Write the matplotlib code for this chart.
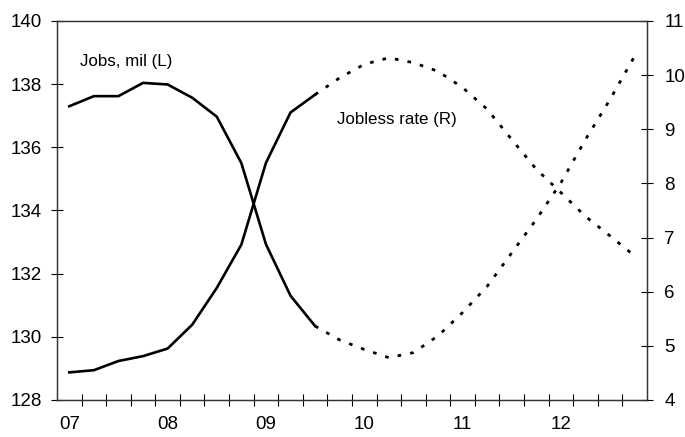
import numpy as np
import matplotlib
matplotlib.use('Agg')
import matplotlib.pyplot as plt

plt.rcParams['font.family'] = ['Liberation Sans', 'DejaVu Sans']

# quarterly data, 2007Q1 .. 2012Q4 (first 11 quarters actual, rest forecast)
jobs_actual = [137.30, 137.62, 137.62, 138.04, 137.99, 137.57, 136.97, 135.50, 132.93, 131.30, 130.34]
jobs_fcst = [130.34, 129.90, 129.60, 129.34, 129.50, 130.03, 130.77, 131.60, 132.66, 133.72, 134.88, 136.25, 137.52, 138.89]
rate_actual = [4.51, 4.55, 4.72, 4.81, 4.95, 5.39, 6.07, 6.87, 8.38, 9.31, 9.64]
rate_fcst = [9.64, 9.95, 10.20, 10.32, 10.23, 10.07, 9.77, 9.37, 8.81, 8.26, 7.83, 7.39, 7.03, 6.66]
year_labels = ['07', '08', '09', '10', '11', '12']

x_act = np.arange(len(jobs_actual)) + 0.5
x_fc = np.arange(len(jobs_actual) - 1, len(jobs_actual) - 1 + len(jobs_fcst)) + 0.5

fig = plt.figure(figsize=(6.85, 4.37), dpi=100)
ax = fig.add_axes([0.0832, 0.0847, 0.8613, 0.8673])
ax2 = ax.twinx()

dots = (0, (1.3, 3.3))
ax.plot(x_act, jobs_actual, color='black', lw=1.9)
ax.plot(x_fc, jobs_fcst, color='black', lw=2, linestyle=dots)
ax2.plot(x_act, rate_actual, color='black', lw=1.9)
ax2.plot(x_fc, rate_fcst, color='black', lw=2, linestyle=dots)

ax.set_xlim(0, 24)
ax.set_ylim(128, 140)
ax2.set_ylim(4, 11)
ax.set_yticks(np.arange(128, 141, 2))
ax2.set_yticks(np.arange(4, 12, 1))

ax.set_xticks(np.arange(len(year_labels)) * 4 + 0.5)
ax.set_xticklabels(year_labels)
ax.set_xticks(np.arange(1, 24), minor=True)
ax.tick_params(axis='x', which='major', length=0, pad=11.5, labelsize=13.5)
ax.tick_params(axis='x', which='minor', direction='inout', length=8, width=0.8)
ax.tick_params(axis='y', direction='inout', length=8, width=0.8, pad=7, labelsize=13.5)
ax2.tick_params(axis='y', direction='inout', length=8, width=0.8, pad=8.5, labelsize=13.5)

for a in (ax, ax2):
    for s in a.spines.values():
        s.set_linewidth(0.9)
        s.set_color('#333333')

ax.text(0.95, 138.72, 'Jobs, mil (L)', fontsize=12.2, va='center', ha='left')
ax2.text(11.39, 9.18, 'Jobless rate (R)', fontsize=12.2, va='center', ha='left')

fig.savefig('out.png', dpi=100)
